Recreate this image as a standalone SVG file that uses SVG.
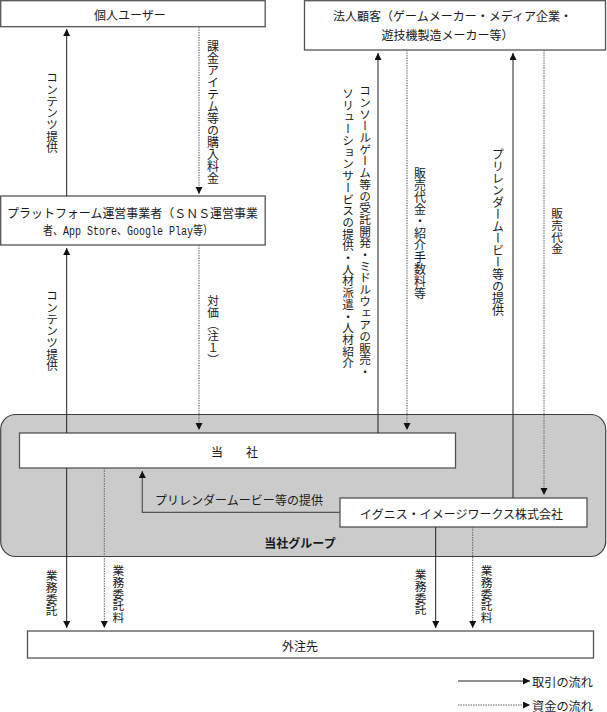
<svg xmlns="http://www.w3.org/2000/svg" width="607" height="712" viewBox="0 0 607 712">
<defs>
<style>
text{font-family:"Noto Sans CJK JP","Liberation Sans",sans-serif;font-size:12px;fill:#1a1a1a;dominant-baseline:central}
.c{text-anchor:middle}
.v{writing-mode:vertical-rl;font-size:11.7px}
.box{fill:#fff;stroke:#555;stroke-width:1.3}
.s{fill:none;stroke:#222;stroke-width:1}
.g{fill:none;stroke:#555;stroke-width:1.2}
.d{fill:none;stroke:#666;stroke-width:1;stroke-dasharray:1.5 1}
.b{font-weight:bold}
.m{font-family:"Liberation Mono","Noto Sans CJK JP",monospace}
</style>
<marker id="ah" markerUnits="userSpaceOnUse" markerWidth="8" markerHeight="8" refX="7" refY="3.5" orient="auto">
<path d="M0,0 L7,3.5 L0,7 z" fill="#111"/>
</marker>
</defs>

<g id="group-bg">
<rect x="0.7" y="414.5" width="605" height="142" rx="15" ry="15" fill="#cbcbcb" stroke="#444" stroke-width="1.2"/>
<text class="c b" x="300" y="542">当社グループ</text>
</g>

<g id="node-kojin">
<rect class="box" x="0.7" y="0.7" width="264.5" height="26"/>
<text class="c" x="130" y="14.5">個人ユーザー</text>
</g>

<g id="node-houjin">
<rect class="box" x="304.5" y="0.7" width="301" height="49.3"/>
<text class="c" x="452.5" y="15">法人顧客（ゲームメーカー・メディア企業・</text>
<text class="c" x="447.5" y="34">遊技機製造メーカー等）</text>
</g>

<g id="node-platform">
<rect class="box" x="0.7" y="196" width="264.5" height="49"/>
<text class="c" x="132.5" y="212" textLength="251" lengthAdjust="spacingAndGlyphs">プラットフォーム運営事業者（ＳＮＳ運営事業</text>
<text class="c m" x="128" y="232" textLength="170" lengthAdjust="spacingAndGlyphs">者、App Store、Google Play等）</text>
</g>

<g id="node-tousha">
<rect class="box" x="19.5" y="433" width="436" height="35"/>
<text class="c" x="217" y="451">当</text>
<text class="c" x="252" y="451">社</text>
</g>

<g id="node-ignis">
<rect class="box" x="340" y="498" width="247" height="29"/>
<text class="c" x="461.5" y="513" textLength="203" lengthAdjust="spacingAndGlyphs">イグニス・イメージワークス株式会社</text>
</g>

<g id="node-gaichu">
<rect class="box" x="27.5" y="631" width="566" height="27"/>
<text class="c" x="300" y="645">外注先</text>
</g>

<g id="connectors">
<line class="s" x1="66.7" y1="196" x2="66.7" y2="29" marker-end="url(#ah)"/>
<line class="d" x1="199" y1="27" x2="199" y2="194" marker-end="url(#ah)"/>
<line class="s" x1="66.7" y1="433" x2="66.7" y2="248" marker-end="url(#ah)"/>
<line class="d" x1="199" y1="245" x2="199" y2="430" marker-end="url(#ah)"/>
<line class="s" x1="378" y1="433" x2="378" y2="53" marker-end="url(#ah)"/>
<line class="d" x1="407" y1="50" x2="407" y2="430" marker-end="url(#ah)"/>
<line class="s" x1="513" y1="498" x2="513" y2="53" marker-end="url(#ah)"/>
<line class="d" x1="544" y1="50" x2="544" y2="495" marker-end="url(#ah)"/>
<polyline class="g" points="340,512.3 142.3,512.3 142.3,471" marker-end="url(#ah)"/>
<line class="s" x1="66.7" y1="468" x2="66.7" y2="628" marker-end="url(#ah)"/>
<line class="d" x1="104.3" y1="468" x2="104.3" y2="628" marker-end="url(#ah)"/>
<line class="s" x1="435.7" y1="527" x2="435.7" y2="628" marker-end="url(#ah)"/>
<line class="d" x1="472.7" y1="527" x2="472.7" y2="628" marker-end="url(#ah)"/>
<line class="s" x1="458" y1="681" x2="530" y2="681" marker-end="url(#ah)"/>
<line class="d" x1="458" y1="705" x2="530" y2="705" marker-end="url(#ah)"/>
</g>

<g id="labels">
<text class="v" x="52" y="72">コンテンツ提供</text>
<text class="v" x="213" y="40" style="font-size:12px">課金アイテム等の購入料金</text>
<text class="v" x="52" y="290">コンテンツ提供</text>
<text class="v" x="213" y="295">対価（注１）</text>
<text class="v" x="365" y="85">コンソールゲーム等の受託開発・ミドルウェアの販売・</text>
<text class="v" x="348" y="88">ソリューションサービスの提供・人材派遣・人材紹介</text>
<text class="v" x="420" y="167" style="font-size:12px">販売代金・紹介手数料等</text>
<text class="v" x="498" y="148" style="font-size:12px">プリレンダームービー等の提供</text>
<text class="v" x="557" y="208">販売代金</text>
<text x="155" y="499" textLength="168" lengthAdjust="spacingAndGlyphs">プリレンダームービー等の提供</text>
<text class="v" x="51.7" y="570">業務委託</text>
<text class="v" x="118.3" y="565">業務委託料</text>
<text class="v" x="420.7" y="569">業務委託</text>
<text class="v" x="486.7" y="565">業務委託料</text>
<text x="532" y="681" textLength="61" lengthAdjust="spacingAndGlyphs">取引の流れ</text>
<text x="532" y="705" textLength="61" lengthAdjust="spacingAndGlyphs">資金の流れ</text>
</g>
</svg>
